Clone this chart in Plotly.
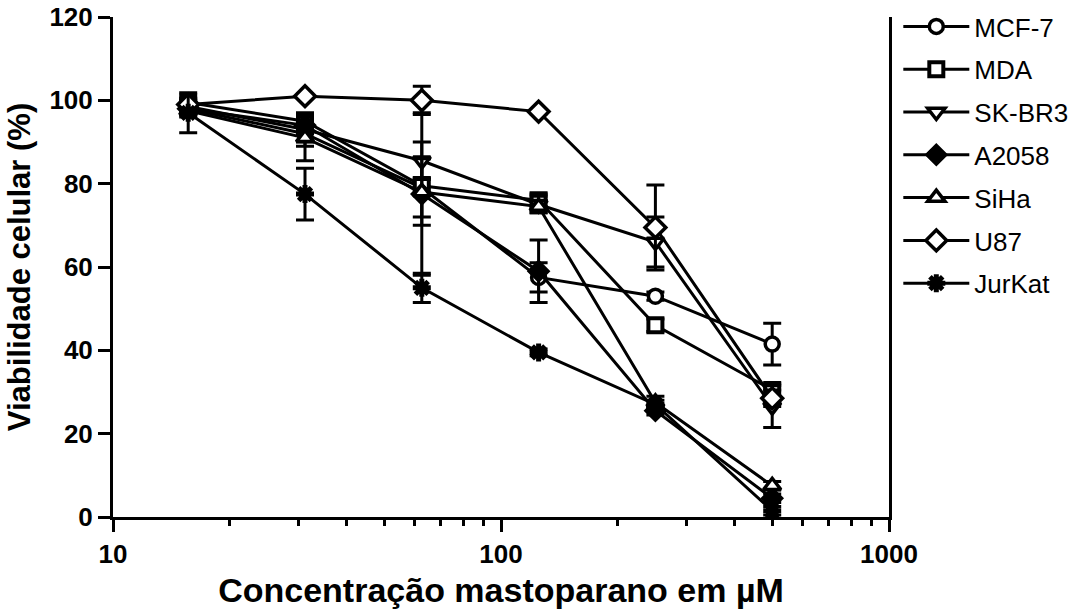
import plotly.graph_objects as go

conc = [15.625, 31.25, 62.5, 125, 250, 500]

mcf7 = [98, 92, 79, 57.5, 53, 41.5]
mcf7_err = [1.5, 3, 7, 3.5, 1, 5]
mda = [99.5, 95, 79.5, 76, 46, 30.5]
mda_err = [1, 2, 2, 1.5, 1.5, 1.5]
skbr3 = [98.5, 93, 85.5, 75, 66, 26.5]
skbr3_err = [1, 3, 4.5, 2, 6, 5]
a2058 = [98, 94, 77.5, 59, 25.5, 4.5]
a2058_err = [1, 2, 19.5, 7.5, 1, 1]
siha = [97.5, 91, 78, 74.5, 27.5, 7.5]
siha_err = [1.5, 5.5, 8, 1.5, 1.5, 1]
u87 = [99, 101, 100, 97.3, 69.5, 28.5]
u87_err = [1, 0.5, 3.4, 0.5, 10.2, 2]
jurkat = [97, 77.5, 55, 39.5, 27, 1.5]
jurkat_err = [4.8, 6.2, 3.5, 0.8, 1, 1]

series = [
    ("MCF-7", mcf7, mcf7_err, "circle", "white", 14, 3.5),
    ("MDA", mda, mda_err, "square", "white", 14, 4),
    ("SK-BR3", skbr3, skbr3_err, "triangle-down", "white", 15, 3.5),
    ("A2058", a2058, a2058_err, "diamond", "black", 16, 2),
    ("SiHa", siha, siha_err, "triangle-up", "white", 15, 3.5),
    ("U87", u87, u87_err, "diamond", "white", 16, 3.5),
    ("JurKat", jurkat, jurkat_err, "asterisk", "black", 15, 5),
]

fig = go.Figure()
for i, (name, vals, errs, sym, fill, msize, mlw) in enumerate(series):
    fig.add_trace(go.Scatter(
        x=conc, y=vals, name=name, mode="lines+markers",
        legendgroup=f"g{i}",
        line=dict(color="black", width=3),
        marker=dict(symbol=sym, size=msize, color=fill,
                    line=dict(color="black", width=mlw)),
        error_y=dict(type="data", array=errs, visible=True,
                     color="black", thickness=3, width=9),
        cliponaxis=False,
    ))

font_family = "Liberation Sans, Arial, sans-serif"

fig.update_layout(
    width=1092, height=612,
    margin=dict(l=113, r=203, t=17, b=95, autoexpand=False),
    paper_bgcolor="white", plot_bgcolor="white",
    font=dict(family=font_family, color="black"),
    showlegend=True,
    legend=dict(x=1.012, y=1.028, xanchor="left", yanchor="top",
                font=dict(size=26, family=font_family, color="black"),
                itemwidth=66, tracegroupgap=6, maxheight=700,
                bgcolor="rgba(0,0,0,0)"),
    xaxis=dict(
        type="log", range=[1, 3],
        tickmode="array", tickvals=[10, 100, 1000], ticktext=["10", "100", "1000"],
        ticks="outside", ticklen=12, tickwidth=3, tickcolor="black",
        showline=True, linewidth=3, linecolor="black",
        showgrid=False, zeroline=False,
        tickfont=dict(size=26, family=font_family, weight="bold"),
        minor=dict(ticks="outside", ticklen=6, tickwidth=3, tickcolor="black",
                   tickmode="array",
                   tickvals=[20, 30, 40, 50, 60, 70, 80, 90,
                             200, 300, 400, 500, 600, 700, 800, 900],
                   showgrid=False),
        title=dict(text="Concentração mastoparano em µM",
                   font=dict(size=34, family=font_family, weight="bold"),
                   standoff=10),
    ),
    yaxis=dict(
        range=[0, 120], tickmode="linear", tick0=0, dtick=20,
        ticks="outside", ticklen=12, tickwidth=3, tickcolor="black",
        showline=True, linewidth=3, linecolor="black", mirror=True,
        showgrid=False, zeroline=False,
        tickfont=dict(size=26, family=font_family, weight="bold"),
        title=dict(text="Viabilidade celular (%)",
                   font=dict(size=31, family=font_family, weight="bold"),
                   standoff=10),
    ),
)

fig.write_html("out.html")
